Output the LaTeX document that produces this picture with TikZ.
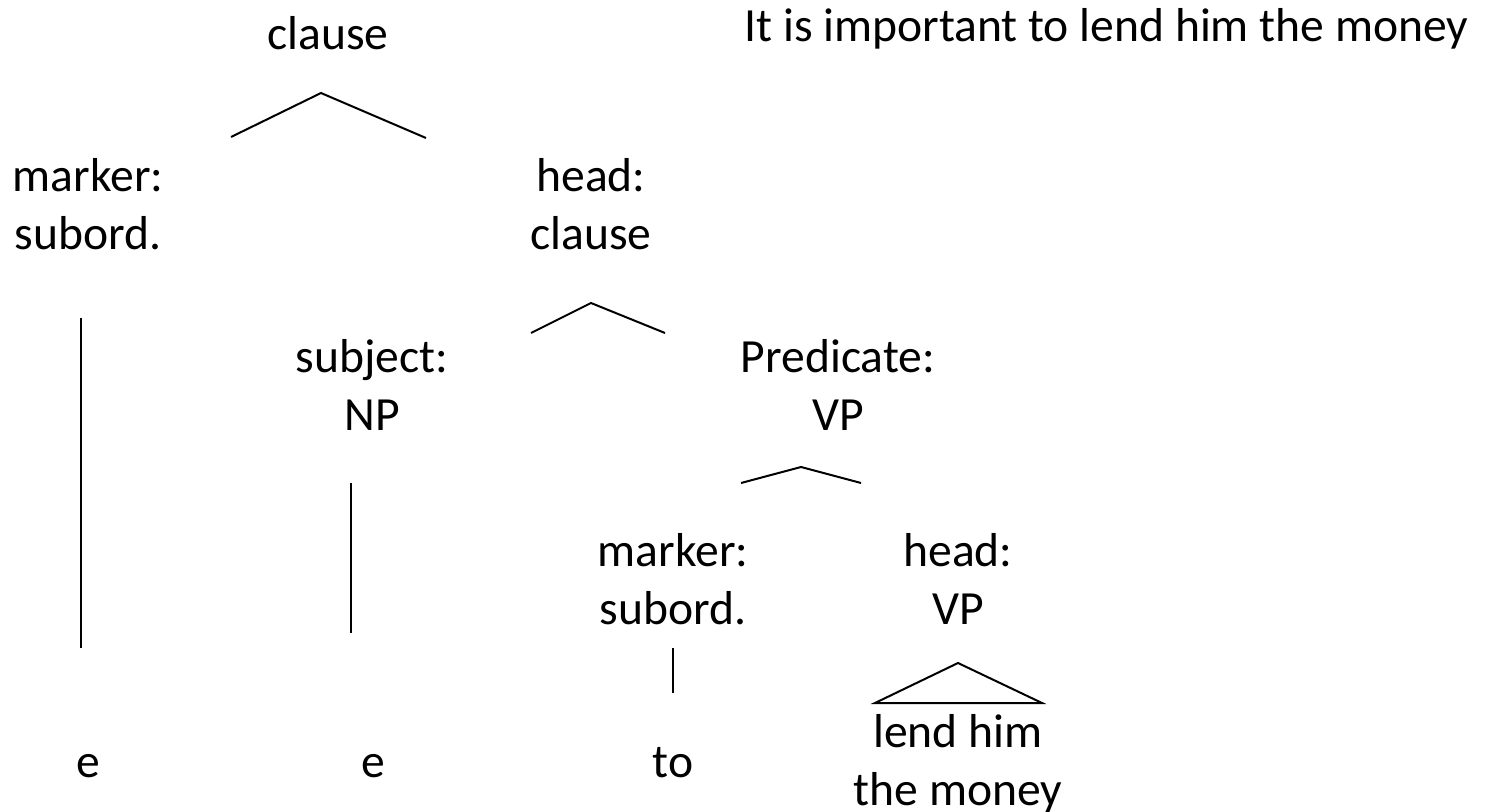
\documentclass[tikz,border=0pt]{standalone}
\usepackage{fontspec}
\setmainfont{Carlito}
\tikzset{
  lbl/.style={anchor=base,inner sep=0pt,align=center,font=\fontsize{23.8}{29}\selectfont},
  branch/.style={line width=1pt}
}
\begin{document}
\begin{tikzpicture}[x=0.5pt,y=0.5pt,yscale=-1,xscale=1]
\useasboundingbox (0,0) rectangle (1487,812);

% Text Node
\node[lbl] (root) at (328,50) {clause};
% Text Node
\node[lbl,anchor=base west] (sent) at (744,42) {It is important to lend him the money};
% Text Node
\node[lbl] (mkA) at (88,250) {marker:\\subord.};
% Text Node
\node[lbl] (hdA) at (591,250) {head:\\clause};
% Text Node
\node[lbl] (subj) at (372,430) {subject:\\NP};
% Text Node
\node[lbl] (pred) at (838,430) {Predicate:\\VP};
% Text Node
\node[lbl] (mkB) at (673,624) {marker:\\subord.};
% Text Node
\node[lbl] (hdB) at (958,624) {head:\\VP};
% Text Node
\node[lbl] (eA) at (88,777) {e};
% Text Node
\node[lbl] (eB) at (373,777) {e};
% Text Node
\node[lbl] (to) at (673,777) {to};
% Text Node
\node[lbl] (lend) at (958,805) {lend him\\the money};

% branch ends
\coordinate (rootL) at (231,137);
\coordinate (rootT) at (321,93);
\coordinate (rootR) at (426,138);
\coordinate (hdAL) at (531,333);
\coordinate (hdAT) at (591,303);
\coordinate (hdAR) at (665,333);
\coordinate (predL) at (741,483);
\coordinate (predT) at (801,467);
\coordinate (predR) at (861,483);
\coordinate (hdBL) at (875,703);
\coordinate (hdBT) at (958,663);
\coordinate (hdBR) at (1042,703);
\coordinate (mkAT) at (81,318);
\coordinate (mkAB) at (81,648);
\coordinate (subjT) at (351,483);
\coordinate (subjB) at (351,633);
\coordinate (mkBT) at (673,648);
\coordinate (mkBB) at (673,693);

%Straight Lines
\draw[branch] (rootL) -- (rootT) -- (rootR);
\draw[branch] (hdAL) -- (hdAT) -- (hdAR);
\draw[branch] (predL) -- (predT) -- (predR);
%Triangle
\draw[branch] (hdBL) -- (hdBT) -- (hdBR) -- cycle;
%Straight Lines
\draw[branch] (mkAT) -- (mkAB);
\draw[branch] (subjT) -- (subjB);
\draw[branch] (mkBT) -- (mkBB);

\end{tikzpicture}
\end{document}
